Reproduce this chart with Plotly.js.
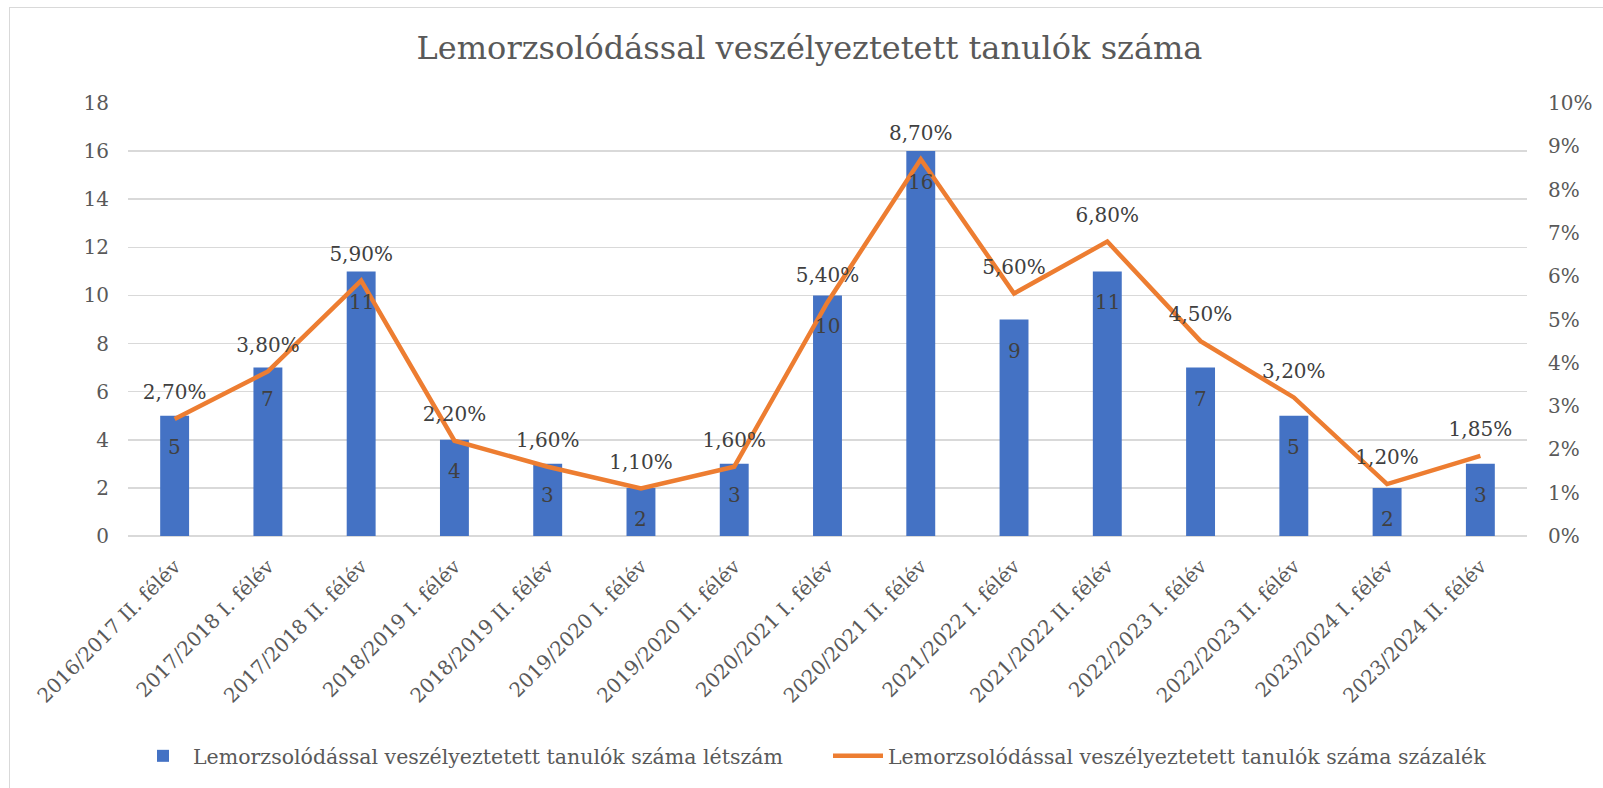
<!DOCTYPE html>
<html>
<head>
<meta charset="utf-8">
<script src="https://cdn.plot.ly/plotly-3.0.1.min.js"></script>
<style>
  html, body { margin: 0; padding: 0; background: #fff; }
  #frame { position: absolute; left: 9px; top: 7px; width: 1620px; height: 800px; border: 1px solid #d9d9d9; box-sizing: border-box; pointer-events: none; }
  #chart { position: absolute; left: 0; top: 0; width: 1603px; height: 788px; }
</style>
</head>
<body>
<div id="chart"></div>
<div id="frame"></div>
<script>
const categories = [
  "2016/2017 II. félév", "2017/2018 I. félév", "2017/2018 II. félév",
  "2018/2019 I. félév", "2018/2019 II. félév", "2019/2020 I. félév",
  "2019/2020 II. félév", "2020/2021 I. félév", "2020/2021 II. félév",
  "2021/2022 I. félév", "2021/2022 II. félév", "2022/2023 I. félév",
  "2022/2023 II. félév", "2023/2024 I. félév", "2023/2024 II. félév"
];
const countValues = [5, 7, 11, 4, 3, 2, 3, 10, 16, 9, 11, 7, 5, 2, 3];
const percentValues = [2.70, 3.80, 5.90, 2.20, 1.60, 1.10, 1.60, 5.40, 8.70, 5.60, 6.80, 4.50, 3.20, 1.20, 1.85];
const leftTicks = [0, 2, 4, 6, 8, 10, 12, 14, 16, 18];
const rightTicks = [0, 1, 2, 3, 4, 5, 6, 7, 8, 9, 10];
const seriesNames = [
  "Lemorzsolódással veszélyeztetett tanulók száma létszám",
  "Lemorzsolódással veszélyeztetett tanulók száma százalék"
];
const chartTitle = "Lemorzsolódással veszélyeztetett tanulók száma";

const FONT = "DejaVu Serif, Georgia, serif";
const percentText = percentValues.map(v => v.toFixed(2).replace(".", ",") + "%");

const barTrace = {
  type: "bar",
  x: categories,
  y: countValues,
  name: seriesNames[0],
  marker: { color: "#4472C4" },
  hoverinfo: "skip",
  yaxis: "y"
};

const lineTrace = {
  type: "scatter",
  mode: "lines+markers+text",
  x: categories,
  y: percentValues,
  name: seriesNames[1],
  line: { color: "#ED7D31", width: 4.5 },
  marker: { size: 22, color: "rgba(0,0,0,0)" },
  text: percentText,
  textposition: "top center",
  textfont: { family: FONT, size: 20, color: "#404040" },
  hoverinfo: "skip",
  yaxis: "y2"
};

// bar value labels, placed at each bar's top through the y axis scale
const barLabels = categories.map((c, i) => ({
  x: c,
  y: countValues[i],
  xref: "x",
  yref: "y",
  text: String(countValues[i]),
  showarrow: false,
  yanchor: "middle",
  yshift: -31,
  font: { family: FONT, size: 20, color: "#404040" }
}));

const layout = {
  width: 1603,
  height: 788,
  margin: { l: 128, r: 76, t: 103, b: 252 },
  paper_bgcolor: "rgba(0,0,0,0)",
  plot_bgcolor: "#fff",
  font: { family: FONT, color: "#595959", size: 20 },
  title: {
    text: chartTitle,
    font: { family: FONT, size: 32, color: "#595959" },
    x: 0.505, xref: "container", xanchor: "center",
    y: 1 - 48 / 788, yref: "container", yanchor: "middle"
  },
  bargap: 0.69,
  xaxis: {
    type: "category",
    range: [-0.5, categories.length - 0.5],
    tickangle: -45,
    tickfont: { family: FONT, size: 20, color: "#595959" },
    showgrid: false,
    showline: false,
    zeroline: false,
    ticks: "",
    automargin: false,
    ticklabelstandoff: 14
  },
  yaxis: {
    range: [0, 18],
    tickvals: leftTicks,
    ticktext: leftTicks.map(String),
    tickfont: { family: FONT, size: 20, color: "#595959" },
    showgrid: true,
    gridcolor: "#d9d9d9",
    gridwidth: 1.5,
    zeroline: true,
    zerolinecolor: "#d9d9d9",
    zerolinewidth: 1.5,
    showline: false,
    ticks: "",
    ticklabelstandoff: 18,
    automargin: false,
    fixedrange: true
  },
  yaxis2: {
    overlaying: "y",
    side: "right",
    range: [0, 10],
    tickvals: rightTicks,
    ticktext: rightTicks.map(v => v + "%"),
    tickfont: { family: FONT, size: 20, color: "#595959" },
    showgrid: false,
    zeroline: false,
    showline: false,
    ticks: "",
    automargin: false,
    ticklabelstandoff: 20
  },
  annotations: barLabels,
  showlegend: true,
  legend: {
    orientation: "h",
    x: 133 / 1603, xref: "container", xanchor: "left",
    y: 1 - 756 / 788, yref: "container", yanchor: "middle",
    font: { family: FONT, size: 20.5, color: "#595959" },
    entrywidth: 630,
    entrywidthmode: "pixels",
    traceorder: "normal",
    itemwidth: 50
  }
};

Plotly.newPlot("chart", [barTrace, lineTrace], layout, { displayModeBar: false, staticPlot: true });
</script>
</body>
</html>
